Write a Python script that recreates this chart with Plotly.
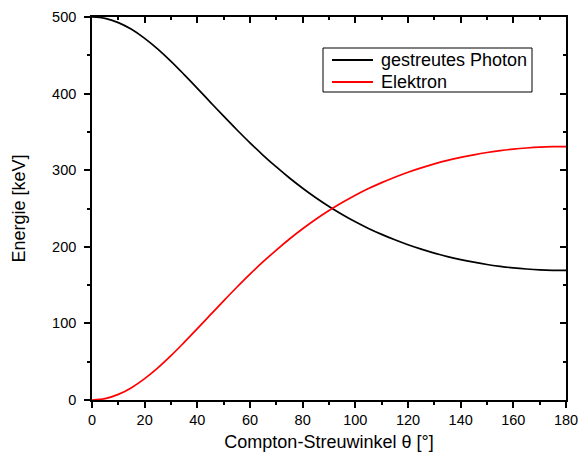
import plotly.graph_objects as go

# Compton scattering of a 500 keV photon: energy of the scattered photon and of the recoil electron
angle_deg = [0, 5, 10, 15, 20, 25, 30, 35, 40, 45, 50, 55, 60, 65, 70, 75, 80, 85, 90,
             95, 100, 105, 110, 115, 120, 125, 130, 135, 140, 145, 150, 155, 160, 165,
             170, 175, 180]
photon_kev = [500.0, 498.2, 492.7, 483.9, 472.1, 458.0, 442.1, 424.8, 406.9, 388.6,
              370.5, 352.8, 335.7, 319.5, 304.2, 289.8, 276.5, 264.1, 252.7, 242.3,
              232.7, 224.0, 216.2, 209.1, 202.6, 196.9, 191.8, 187.2, 183.3, 179.9,
              176.9, 174.5, 172.5, 171.0, 169.9, 169.3, 169.1]
electron_kev = [0.0, 1.8, 7.3, 16.1, 27.9, 42.0, 57.9, 75.2, 93.1, 111.4,
                129.5, 147.2, 164.3, 180.5, 195.8, 210.2, 223.5, 235.9, 247.3, 257.7,
                267.3, 276.0, 283.8, 290.9, 297.4, 303.1, 308.2, 312.8, 316.7, 320.1,
                323.1, 325.5, 327.5, 329.0, 330.1, 330.7, 330.9]
series_names = ["gestreutes Photon", "Elektron"]
series_colors = ["black", "red"]

x_range = [0, 180]
y_range = [0, 500]
x_ticks = [0, 20, 40, 60, 80, 100, 120, 140, 160, 180]
y_ticks = [0, 100, 200, 300, 400, 500]

FONT = "Liberation Sans, Arial, sans-serif"
W, H = 580, 461
ML, MR, MT, MB = 92, 14, 17, 61
PW, PH = W - ML - MR, H - MT - MB


def px_x(px):
    return (px - ML) / PW


def px_y(py):
    return (H - MB - py) / PH


fig = go.Figure()
for yvals, name, color in zip([photon_kev, electron_kev], series_names, series_colors):
    fig.add_trace(go.Scatter(x=angle_deg, y=yvals, mode="lines", name=name,
                             line=dict(color=color, width=1.7, shape="spline"),
                             showlegend=False))
# invisible trace so the top/right frame axes get drawn
fig.add_trace(go.Scatter(x=[None], y=[None], xaxis="x2", yaxis="y2",
                         showlegend=False, hoverinfo="skip"))

common = dict(showgrid=False, zeroline=False, showline=True, linecolor="black",
              linewidth=1.6, tickcolor="black", tickwidth=1.5, ticklen=6,
              automargin=False)

# boxed legend at the upper right
shapes = [dict(type="rect", xref="paper", yref="paper",
               x0=px_x(323), x1=px_x(532), y0=px_y(92), y1=px_y(48),
               line=dict(color="black", width=1), fillcolor="white", layer="above")]
annotations = []
for i, (name, color) in enumerate(zip(series_names, series_colors)):
    yy = px_y(60 + 22 * i)
    shapes.append(dict(type="line", xref="paper", yref="paper",
                       x0=px_x(332), x1=px_x(373), y0=yy, y1=yy,
                       line=dict(color=color, width=1.8), layer="above"))
    annotations.append(dict(xref="paper", yref="paper", x=px_x(379), y=yy,
                            xanchor="left", yanchor="middle", showarrow=False,
                            text=name, font=dict(size=18, family=FONT, color="black")))

fig.update_layout(
    width=W, height=H,
    margin=dict(l=ML, r=MR, t=MT, b=MB),
    paper_bgcolor="white", plot_bgcolor="white",
    font=dict(family=FONT, size=14.5, color="black"),
    xaxis=dict(range=x_range, tickvals=x_ticks, ticks="outside", ticklabelstandoff=0,
               minor=dict(dtick=10, ticks="outside", ticklen=3, tickcolor="black", tickwidth=1.5),
               title=dict(text="Compton-Streuwinkel θ [°]", font=dict(size=18), standoff=8),
               tickfont=dict(size=14.5), **common),
    yaxis=dict(range=y_range, tickvals=y_ticks, ticks="outside", ticklabelstandoff=5,
               minor=dict(dtick=50, ticks="outside", ticklen=3, tickcolor="black", tickwidth=1.5),
               title=dict(text="Energie [keV]", font=dict(size=18), standoff=22),
               tickfont=dict(size=14.5), **common),
    xaxis2=dict(range=x_range, tickvals=x_ticks, ticks="inside", overlaying="x",
                side="top", anchor="y2", showticklabels=False,
                minor=dict(dtick=10, ticks="inside", ticklen=3, tickcolor="black", tickwidth=1.5),
                **common),
    yaxis2=dict(range=y_range, tickvals=y_ticks, ticks="inside", overlaying="y",
                side="right", anchor="x2", showticklabels=False,
                minor=dict(dtick=50, ticks="inside", ticklen=3, tickcolor="black", tickwidth=1.5),
                **common),
    shapes=shapes,
    annotations=annotations,
    showlegend=False,
)

fig.write_html("out.html")
